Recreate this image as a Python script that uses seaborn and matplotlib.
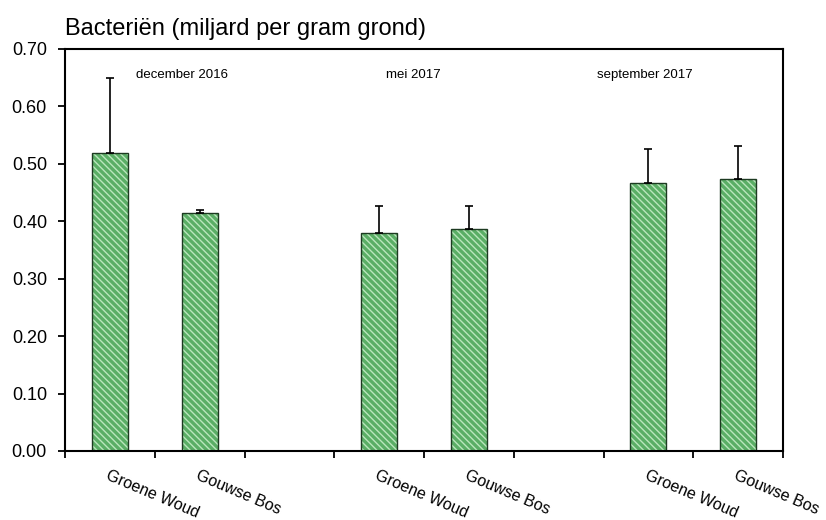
import numpy as np
import pandas as pd
import matplotlib
matplotlib.use("Agg")
import matplotlib.pyplot as plt
import seaborn as sns

# values
slots = ["dec_GW", "dec_GB", "gap1", "mei_GW", "mei_GB", "gap2", "sep_GW", "sep_GB"]
bar_slots = ["dec_GW", "dec_GB", "mei_GW", "mei_GB", "sep_GW", "sep_GB"]
bar_labels = ["Groene Woud", "Gouwse Bos", "Groene Woud", "Gouwse Bos", "Groene Woud", "Gouwse Bos"]
bacteria = [0.519, 0.414, 0.379, 0.387, 0.467, 0.474]
error_top = [0.650, 0.419, 0.427, 0.427, 0.526, 0.531]
periods = ["december 2016", "mei 2017", "september 2017"]
period_x = [0.80, 3.38, 5.96]
yticks = [0.0, 0.1, 0.2, 0.3, 0.4, 0.5, 0.6, 0.7]


def make_figure():
    sns.set_style("white")
    plt.rcParams["font.family"] = ["Liberation Sans", "DejaVu Sans"]
    plt.rcParams["text.color"] = "black"
    plt.rcParams["xtick.color"] = "black"
    plt.rcParams["ytick.color"] = "black"
    plt.rcParams["hatch.linewidth"] = 1.0

    data = pd.DataFrame({"slot": bar_slots, "value": bacteria})

    fig = plt.figure(figsize=(8.26, 5.2), dpi=100)
    ax = fig.add_axes([0.0787, 0.1327, 0.8693, 0.7731])

    # fill with a light diagonal texture, then a separate dark outline on top
    sns.barplot(data=data, x="slot", y="value", order=slots, width=0.4,
                color="#4cbc5b", edgecolor="#b9e6bc", linewidth=0,
                errorbar=None, ax=ax)
    for patch in ax.patches:
        patch.set_hatch("\\\\\\\\\\")
    sns.barplot(data=data, x="slot", y="value", order=slots, width=0.4,
                fill=False, edgecolor="#1d3a21", linewidth=1.0,
                errorbar=None, ax=ax)

    # only the upper half of each error bar is drawn
    pos = [slots.index(s) for s in bar_slots]
    upper = np.array(error_top) - np.array(bacteria)
    ax.errorbar(pos, bacteria, yerr=[np.zeros(len(upper)), upper], fmt="none",
                ecolor="black", elinewidth=1.2, capsize=3, capthick=1.2, zorder=3)

    ax.set_xlim(-0.5, 7.5)
    ax.set_ylim(0, 0.7)
    ax.set_yticks(yticks)
    ax.set_yticklabels([f"{v:.2f}" for v in yticks], fontsize=13)

    ax.set_xticks(pos)
    ax.set_xticklabels(bar_labels, rotation=-23, ha="left", va="top",
                       rotation_mode="anchor", fontsize=11.5)
    ax.set_xticks(np.arange(-0.5, 8.0, 1.0), minor=True)
    ax.tick_params(axis="x", which="major", bottom=True, length=0, pad=12)
    ax.tick_params(axis="x", which="minor", bottom=True, length=5, width=1.3,
                   direction="out", color="black")
    ax.tick_params(axis="y", which="major", left=True, length=5, width=1.3,
                   direction="out", color="black", pad=8)
    ax.set_xlabel("")
    ax.set_ylabel("")

    for sp in ax.spines.values():
        sp.set_visible(True)
        sp.set_color("black")
        sp.set_linewidth(1.5)

    for name, x in zip(periods, period_x):
        ax.text(x, 0.655, name, ha="center", va="center", fontsize=9.5)

    ax.set_title("Bacteriën (miljard per gram grond)", loc="left", fontsize=17, pad=10)
    return fig


if __name__ == "__main__":
    fig = make_figure()
    fig.savefig("out.png", dpi=100)
